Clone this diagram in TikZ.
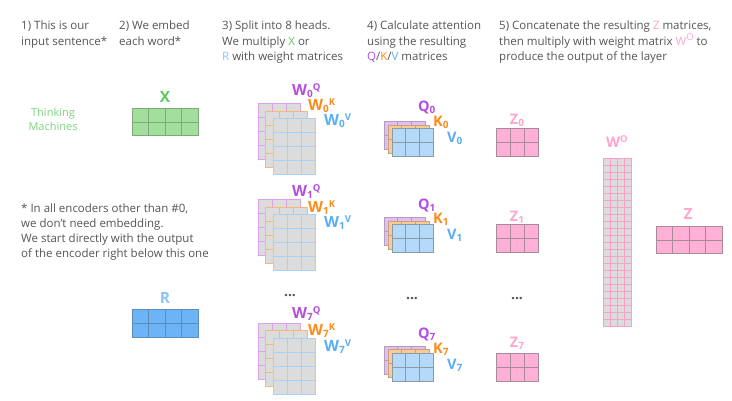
\documentclass[tikz,border=0pt]{standalone}
\usepackage{fontspec}
\setmainfont{Open Sans}
\definecolor{txtgray}{HTML}{555555}
\definecolor{cgreen}{HTML}{5CCB5C}
\definecolor{cthink}{HTML}{7DD67D}
\definecolor{cpurple}{HTML}{B44FE0}
\definecolor{corange}{HTML}{FF8A1A}
\definecolor{cblue}{HTML}{5AAEF7}
\definecolor{clblue}{HTML}{8EC5F5}
\definecolor{cpink}{HTML}{FFA5D0}
\definecolor{xfill}{HTML}{A2DE9C}
\definecolor{xline}{HTML}{80A87D}
\definecolor{rfill}{HTML}{6CB4F5}
\definecolor{rline}{HTML}{5C8DB8}
\definecolor{wfill}{HTML}{DCDCDC}
\definecolor{wpline}{HTML}{DDA0EE}
\definecolor{woline}{HTML}{F9B870}
\definecolor{wbline}{HTML}{A6D1FA}
\definecolor{qfill}{HTML}{E2BFF2}
\definecolor{qline}{HTML}{B79BC0}
\definecolor{kfill}{HTML}{FBCB95}
\definecolor{kline}{HTML}{C9A27A}
\definecolor{vfill}{HTML}{B5D9F8}
\definecolor{vline}{HTML}{8C9BAA}
\definecolor{zfill}{HTML}{FFB0D6}
\definecolor{zline}{HTML}{A88A99}
\definecolor{woutline}{HTML}{F7A0C8}
\newcommand\sbs[1]{{\fontsize{10}{10}\selectfont\raisebox{-2pt}{#1}}}
\newcommand\sps[1]{{\fontsize{9.5}{9.5}\selectfont\raisebox{5pt}{#1}}}
% x y cols rows cw ch fill line
\newcommand\mgrid[8]{%
  \pgfmathtruncatemacro\mgc{#3-1}%
  \pgfmathtruncatemacro\mgr{#4-1}%
  \fill[#7] (#1,#2) rectangle ++({#3*#5},{#4*#6});
  \foreach \i in {1,...,\mgc} \draw[#8, line width=1pt] ({#1+\i*#5},#2) -- ++(0,{#4*#6});
  \foreach \j in {1,...,\mgr} \draw[#8, line width=1pt] (#1,{#2+\j*#6}) -- ++({#3*#5},0);
  \draw[#8, line width=1pt] (#1,#2) rectangle ++({#3*#5},{#4*#6});
}
\newcommand\wgroup[1]{%
  \mgrid{258}{#1}{3}{4}{14}{14}{wfill}{wpline}
  \mgrid{265.5}{#1+7.5}{3}{4}{14}{14}{wfill}{woline}
  \mgrid{273}{#1+15}{3}{4}{14}{14}{wfill}{wbline}
}
\newcommand\qgroup[1]{%
  \mgrid{384}{#1}{3}{2}{13.7}{14}{qfill}{qline}
  \mgrid{388}{#1+3.5}{3}{2}{13.7}{14}{kfill}{kline}
  \mgrid{392}{#1+7}{3}{2}{13.7}{14}{vfill}{vline}
}
\begin{document}
\begin{tikzpicture}[x=1pt,y=-1pt,
  hdr/.style={anchor=base west, inner sep=0pt, text=txtgray, font=\fontsize{11.5}{14}\selectfont},
  lab/.style={anchor=base west, inner sep=0pt, font=\bfseries\fontsize{15.5}{15.5}\selectfont},
  qlab/.style={anchor=base west, inner sep=0pt, font=\bfseries\fontsize{14.5}{14.5}\selectfont},
  clab/.style={anchor=base, inner sep=0pt, font=\bfseries\fontsize{14.5}{14.5}\selectfont},
  dots/.style={anchor=base, inner sep=0pt, text=txtgray, font=\bfseries\fontsize{14}{14}\selectfont}]
\fill[white] (0,0) rectangle (732,401);
\useasboundingbox (0,0) rectangle (732,401);

% headers
\node[hdr] (h1a) at (21,30) {1) This is our};
\node[hdr] (h1b) at (21,45.5) {input sentence*};
\node[hdr] (h2a) at (119,30) {2) We embed};
\node[hdr] (h2b) at (119,45.5) {each word*};
\node[hdr] (h3a) at (222,30) {3) Split into 8 heads.};
\node[hdr] (h3b) at (222,45.5) {We multiply \textcolor{cgreen}{X} or};
\node[hdr] (h3c) at (222,61) {\textcolor{clblue}{R} with weight matrices};
\node[hdr] (h4a) at (367,30) {4) Calculate attention};
\node[hdr] (h4b) at (367,45.5) {using the resulting};
\node[hdr] (h4c) at (367,61) {\textcolor{cpurple}{Q}/\textcolor{corange}{K}/\textcolor{cblue}{V} matrices};
\node[hdr] (h5a) at (499,30) {5) Concatenate the resulting \textcolor{cpink}{Z} matrices,};
\node[hdr] (h5b) at (499,45.5) {then multiply with weight matrix \textcolor{cpink}{W\sps{O}} to};
\node[hdr] (h5c) at (499,61) {produce the output of the layer};

% input sentence
\node[anchor=base, inner sep=0pt, text=cthink, font=\fontsize{11}{13}\selectfont] (think) at (53,117) {Thinking};
\node[anchor=base, inner sep=0pt, text=cthink, font=\fontsize{11}{13}\selectfont] (mach) at (53,131) {Machines};

% footnote
\node[hdr] (f1) at (21,213) {* In all encoders other than \#0,};
\node[hdr] (f2) at (21,228) {we don't need embedding.};
\node[hdr] (f3) at (21,243) {We start directly with the output};
\node[hdr] (f4) at (21,258) {of the encoder right below this one};

% X and R
\node[clab, text=cgreen, font=\bfseries\fontsize{15.5}{15.5}\selectfont] (xl) at (165,102.5) {X};
\mgrid{132}{109}{4}{2}{16.5}{13.5}{xfill}{xline}
\node[clab, text=clblue, font=\bfseries\fontsize{15.5}{15.5}\selectfont] (rl) at (165,303.5) {R};
\mgrid{132}{310}{4}{2}{16.5}{13.5}{rfill}{rline}

% W groups
\wgroup{104}
\node[lab, text=cpurple] (w0q) at (292,96) {W\sbs{0}\sps{Q}};
\node[lab, text=corange] (w0k) at (308,111) {W\sbs{0}\sps{K}};
\node[lab, text=cblue] (w0v) at (324,126) {W\sbs{0}\sps{V}};
\wgroup{200}
\node[lab, text=cpurple] (w1q) at (292,196.5) {W\sbs{1}\sps{Q}};
\node[lab, text=corange] (w1k) at (308,212.5) {W\sbs{1}\sps{K}};
\node[lab, text=cblue] (w1v) at (324,227.5) {W\sbs{1}\sps{V}};
\wgroup{323}
\node[lab, text=cpurple] (w7q) at (292,318.5) {W\sbs{7}\sps{Q}};
\node[lab, text=corange] (w7k) at (308,335.5) {W\sbs{7}\sps{K}};
\node[lab, text=cblue] (w7v) at (324,351.5) {W\sbs{7}\sps{V}};

% QKV groups
\qgroup{122}
\node[qlab, text=cpurple] (q0) at (418,112) {Q\sbs{0}};
\node[qlab, text=corange] (k0) at (433,127) {K\sbs{0}};
\node[qlab, text=cblue] (v0) at (447,143) {V\sbs{0}};
\qgroup{218}
\node[qlab, text=cpurple] (q1) at (418,210) {Q\sbs{1}};
\node[qlab, text=corange] (k1) at (433,224) {K\sbs{1}};
\node[qlab, text=cblue] (v1) at (447,240) {V\sbs{1}};
\qgroup{346}
\node[qlab, text=cpurple] (q7) at (418,338) {Q\sbs{7}};
\node[qlab, text=corange] (k7) at (433,353) {K\sbs{7}};
\node[qlab, text=cblue] (v7) at (447,369) {V\sbs{7}};

% Z matrices
\node[clab, text=cpink] (z0) at (517,125) {Z\sbs{0}};
\mgrid{496}{129}{3}{2}{14}{14}{zfill}{zline}
\node[clab, text=cpink] (z1) at (517,222) {Z\sbs{1}};
\mgrid{496}{225}{3}{2}{14}{14}{zfill}{zline}
\node[clab, text=cpink] (z7) at (517,347) {Z\sbs{7}};
\mgrid{496}{353}{3}{2}{14}{14}{zfill}{zline}

% dots
\node[dots] (d1) at (290,297) {...};
\node[dots] (d2) at (412,299) {...};
\node[dots] (d3) at (517,300) {...};

% W^O
\node[clab, text=cpink] (wo) at (617,148) {W\sps{O}};
\mgrid{603}{159}{4}{24}{7}{6.96}{wfill}{woutline}

% Z output
\node[clab, text=cpink, font=\bfseries\fontsize{15.5}{15.5}\selectfont] (zout) at (688,220) {Z};
\mgrid{656}{227}{4}{2}{16.5}{13.5}{zfill}{zline}
\end{tikzpicture}
\end{document}
